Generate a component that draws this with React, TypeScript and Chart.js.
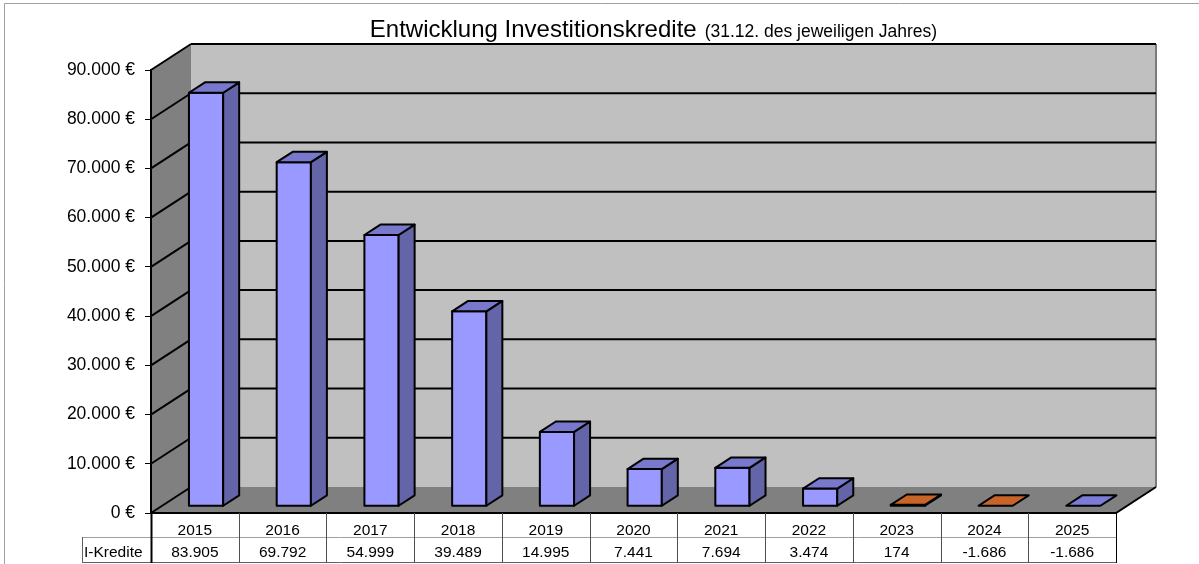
import React, { useEffect, useRef } from 'react';
import { Chart, registerables } from 'chart.js';

Chart.register(...registerables);

// ---- data ----
const years = ['2015', '2016', '2017', '2018', '2019', '2020', '2021', '2022', '2023', '2024', '2025'];
const kredite = [83905, 69792, 54999, 39489, 14995, 7441, 7694, 3474, 174, -1686, -1686];
const frontColors = ['#9999ff', '#9999ff', '#9999ff', '#9999ff', '#9999ff', '#9999ff', '#9999ff', '#9999ff', '#c86428', '#c86428', '#9999ff'];
const topColors = ['#7878cc', '#7878cc', '#7878cc', '#7878cc', '#7878cc', '#7878cc', '#7878cc', '#7878cc', '#c86428', '#c86428', '#7b7bd8'];
const sideColors = ['#6464a8', '#6464a8', '#6464a8', '#6464a8', '#6464a8', '#6464a8', '#6464a8', '#6464a8', '#9a4c1e', '#9a4c1e', '#6464a8'];
const yMin = 0;
const yMax = 90000;
const yStep = 10000;
const titleMain = 'Entwicklung Investitionskredite';
const titleSub = '(31.12. des jeweiligen Jahres)';
const rowLabel = 'I-Kredite';

const FONT = "'Liberation Sans', Arial, sans-serif";
const DX = 40;
const DY = -26;
const BAR_F = 0.28;
const BAR_B = 0.68;

function fmt(n: number): string {
  const s = Math.abs(Math.round(n)).toString().replace(/\B(?=(\d{3})+(?!\d))/g, '.');
  return (n < 0 ? '-' : '') + s;
}

function poly(ctx: CanvasRenderingContext2D, pts: number[][], fill?: string, stroke?: string, lw = 2) {
  ctx.beginPath();
  ctx.moveTo(pts[0][0], pts[0][1]);
  for (let i = 1; i < pts.length; i++) ctx.lineTo(pts[i][0], pts[i][1]);
  ctx.closePath();
  if (fill) {
    ctx.fillStyle = fill;
    ctx.fill();
  }
  if (stroke) {
    ctx.strokeStyle = stroke;
    ctx.lineWidth = lw;
    ctx.stroke();
  }
}

function line(ctx: CanvasRenderingContext2D, pts: number[][], color: string, lw: number) {
  ctx.beginPath();
  ctx.moveTo(pts[0][0], pts[0][1]);
  for (let i = 1; i < pts.length; i++) ctx.lineTo(pts[i][0], pts[i][1]);
  ctx.strokeStyle = color;
  ctx.lineWidth = lw;
  ctx.stroke();
}

const threeD = {
  id: 'threeD',
  beforeDraw(chart: any) {
    const { ctx, chartArea: a, scales } = chart;
    const y = scales.y;
    const L = a.left, R = a.right, T = a.top, B = a.bottom;
    ctx.save();
    // outer frame
    line(ctx, [[4.5, 564], [4.5, 3.5], [1199, 3.5]], '#a0a0a0', 1);
    // back wall
    poly(ctx, [[L + DX, T + DY], [R + DX, T + DY], [R + DX, B + DY], [L + DX, B + DY]], '#c0c0c0');
    // side wall
    poly(ctx, [[L, T], [L + DX, T + DY], [L + DX, B + DY], [L, B]], '#808080');
    // floor
    poly(ctx, [[L, B], [R, B], [R + DX, B + DY], [L + DX, B + DY]], '#808080');
    // back wall right border
    line(ctx, [[R + DX, T + DY], [R + DX, B + DY]], '#7a7a7a', 2);
    // grid lines
    y.ticks.forEach((t: any) => {
      const py = y.getPixelForValue(t.value);
      if (t.value !== 0) line(ctx, [[L + DX, py + DY], [R + DX, py + DY]], '#000', 2);
      line(ctx, [[L, py], [L + DX, py + DY]], '#000', 2);
    });
    // floor edges
    line(ctx, [[L, B], [R, B], [R + DX, B + DY]], '#000', 2);
    ctx.restore();
  },
  afterDatasetsDraw(chart: any) {
    const { ctx, scales } = chart;
    const y = scales.y;
    const meta = chart.getDatasetMeta(0);
    const base = y.getPixelForValue(0);
    ctx.save();
    ctx.lineJoin = 'round';
    meta.data.forEach((el: any, i: number) => {
      const v = kredite[i];
      const top = y.getPixelForValue(Math.max(v, 0));
      const w = el.width;
      const fx = DX * BAR_F, fy = DY * BAR_F;
      const bdx = DX * (BAR_B - BAR_F), bdy = DY * (BAR_B - BAR_F);
      const l = el.x - w / 2 + fx;
      const r = el.x + w / 2 + fx;
      const t = top + fy;
      const b = base + fy;
      const h = b - t;
      if (h > 0.5) {
        poly(ctx, [[l, t], [r, t], [r, b], [l, b]], frontColors[i], '#000', 2);
        poly(ctx, [[r, t], [r + bdx, t + bdy], [r + bdx, b + bdy], [r, b]], sideColors[i], '#000', 2);
      }
      poly(ctx, [[l, t], [r, t], [r + bdx, t + bdy], [l + bdx, t + bdy]], topColors[i], '#000', 2);
    });
    ctx.restore();
  },
  afterDraw(chart: any) {
    const { ctx, chartArea: a, scales } = chart;
    const x = scales.x;
    const L = a.left, R = a.right, B = a.bottom;
    const n = years.length;
    const colW = n > 1 ? x.getPixelForValue(1) - x.getPixelForValue(0) : R - L;
    const hBot = B + 24;
    const dBot = B + 50;
    const labelLeft = 82;
    ctx.save();
    // table lines
    line(ctx, [[labelLeft, hBot + 0.5], [R, hBot + 0.5]], '#a0a0a0', 1);
    line(ctx, [[labelLeft + 0.5, hBot], [labelLeft + 0.5, dBot]], '#606060', 1);
    line(ctx, [[labelLeft, dBot - 0.5], [R, dBot - 0.5]], '#606060', 1);
    for (let i = 0; i <= n; i++) {
      const px = Math.round(x.getPixelForValue(i) - colW / 2) + 0.5;
      line(ctx, [[px, B], [px, dBot]], i === 0 || i === n ? '#000' : '#505050', i === 0 ? 2 : 1);
    }
    // table text
    ctx.fillStyle = '#000';
    ctx.font = `15.5px ${FONT}`;
    ctx.textBaseline = 'alphabetic';
    ctx.textAlign = 'center';
    years.forEach((yr, i) => {
      const cx = x.getPixelForValue(i);
      ctx.fillText(yr, cx, B + 22);
      ctx.fillText(fmt(kredite[i]), cx, B + 43.5);
    });
    ctx.textAlign = 'left';
    ctx.fillText(rowLabel, labelLeft + 2, B + 43.5);
    // title
    ctx.font = `24px ${FONT}`;
    const w1 = ctx.measureText(titleMain).width;
    ctx.font = `17.5px ${FONT}`;
    const w2 = ctx.measureText(titleSub).width;
    const gap = 8;
    const cx = (L + R + DX) / 2;
    const sx = cx - (w1 + gap + w2) / 2;
    ctx.font = `24px ${FONT}`;
    ctx.fillText(titleMain, sx, 37);
    ctx.font = `17.5px ${FONT}`;
    ctx.fillText(titleSub, sx + w1 + gap, 37);
    ctx.restore();
  },
};

export default function App() {
  const ref = useRef<HTMLCanvasElement | null>(null);
  useEffect(() => {
    if (!ref.current) return;
    const chart = new Chart(ref.current, {
      type: 'bar',
      data: {
        labels: years,
        datasets: [
          {
            label: rowLabel,
            data: kredite.map((v) => Math.max(v, 0)),
            backgroundColor: 'rgba(0,0,0,0)',
            borderWidth: 0,
            categoryPercentage: 1,
            barPercentage: 0.39,
          },
        ],
      },
      options: {
        responsive: false,
        animation: false,
        devicePixelRatio: 1,
        layout: { padding: { left: 0, top: 70, right: 83, bottom: 51 } },
        plugins: {
          legend: { display: false },
          tooltip: { enabled: false },
          title: { display: false },
        },
        scales: {
          x: { display: false, offset: true },
          y: {
            min: yMin,
            max: yMax,
            afterFit: (scale: any) => {
              scale.width = 151;
            },
            ticks: {
              stepSize: yStep,
              color: '#000',
              padding: 10,
              font: { family: FONT, size: 17.5 },
              callback: (v: any) => fmt(Number(v)) + ' €',
            },
            grid: {
              drawOnChartArea: false,
              drawTicks: true,
              tickLength: 6,
              color: '#000',
              lineWidth: 1,
            },
            border: { display: true, color: '#000', width: 2 },
          },
        },
      },
      plugins: [threeD],
    });
    return () => chart.destroy();
  }, []);
  return (
    <div style={{ position: 'absolute', left: 0, top: 0, width: 1199, height: 564, background: '#fff' }}>
      <canvas ref={ref} width={1199} height={564} style={{ display: 'block' }} />
    </div>
  );
}
